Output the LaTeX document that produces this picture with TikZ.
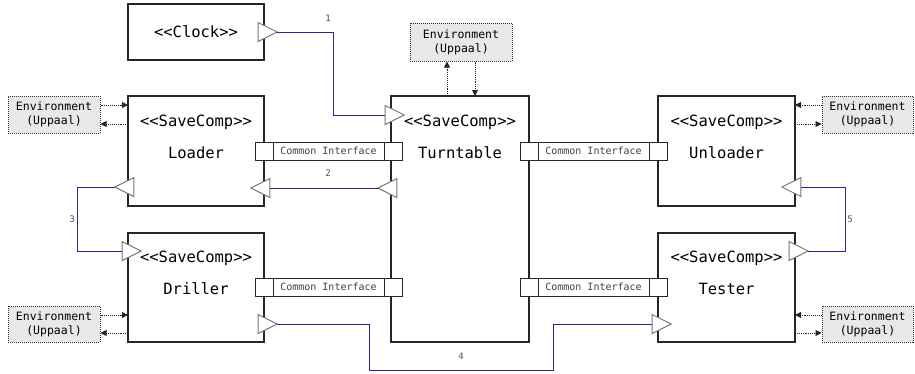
\documentclass[tikz,border=0pt]{standalone}
\usepackage{fontspec}
\newfontfamily\monof{DejaVu Sans Mono}
\usetikzlibrary{shapes.geometric,arrows.meta,calc}

\definecolor{wireblue}{RGB}{40,40,150}
\definecolor{envfill}{RGB}{232,232,232}
\definecolor{portgray}{RGB}{120,120,120}
\definecolor{labgray}{RGB}{80,80,80}

\tikzset{
  comp/.style={draw=black!85, line width=1.1pt, fill=white, inner sep=0pt, outer sep=0pt},
  stereo/.style={font=\monof\fontsize{15.5}{18}\selectfont, inner sep=0pt},
  port/.style={isosceles triangle, isosceles triangle stretches, draw=portgray, fill=white,
    line width=1pt, minimum width=19pt, minimum height=19pt, inner sep=0pt, outer sep=0pt},
  portR/.style={port, shape border rotate=0},
  portL/.style={port, shape border rotate=180},
  wire/.style={draw=wireblue, line width=0.95pt},
  wirelabel/.style={font=\monof\fontsize{9}{10}\selectfont, text=labgray, inner sep=0pt},
  env/.style={draw=black!80, densely dotted, line width=1pt, fill=envfill, minimum height=37pt,
    align=center, inner sep=0pt, font=\monof\fontsize{11.5}{14}\selectfont},
  envarrow/.style={densely dotted, line width=0.9pt, black!85,
    -{Triangle[length=6pt,width=6pt]}},
  citext/.style={draw=black!85, line width=1pt, fill=white, minimum width=111pt, minimum height=18pt,
    inner sep=0pt, outer sep=0pt, text=black!75, font=\monof\fontsize{10}{11}\selectfont},
  cisq/.style={draw=black!85, line width=1pt, fill=white, minimum width=18pt, minimum height=18pt,
    inner sep=0pt, outer sep=0pt},
}

\begin{document}
\begin{tikzpicture}[x=1pt, y=-1pt]
\useasboundingbox (0,0) rectangle (915,373);

% components
\node[comp, minimum width=136pt, minimum height=56pt] (clock) at (196,32) {};
\node[stereo] at (clock.center) {<<Clock>>};

\node[comp, minimum width=136pt, minimum height=110pt] (loader) at (196,151) {};
\node[stereo] at ([yshift=-26pt]loader.north) {<<SaveComp>>};
\node[stereo] at ([yshift=-57pt]loader.north) {Loader};

\node[comp, minimum width=136pt, minimum height=109pt] (driller) at (196,287.5) {};
\node[stereo] at ([yshift=-25pt]driller.north) {<<SaveComp>>};
\node[stereo] at ([yshift=-56pt]driller.north) {Driller};

\node[comp, minimum width=138pt, minimum height=246pt] (turntable) at (460,219) {};
\node[stereo] at ([yshift=-26pt]turntable.north) {<<SaveComp>>};
\node[stereo] at ([yshift=-57pt]turntable.north) {Turntable};

\node[comp, minimum width=137pt, minimum height=110pt] (unloader) at (726.5,151) {};
\node[stereo] at ([yshift=-26pt]unloader.north) {<<SaveComp>>};
\node[stereo] at ([yshift=-57pt]unloader.north) {Unloader};

\node[comp, minimum width=137pt, minimum height=109pt] (tester) at (726.5,287.5) {};
\node[stereo] at ([yshift=-25pt]tester.north) {<<SaveComp>>};
\node[stereo] at ([yshift=-56pt]tester.north) {Tester};

% common interfaces between components
\node[citext] (ci1) at (328.5,151) {Common Interface};
\node[cisq, anchor=east] (ci1l) at (ci1.west) {};
\node[cisq, anchor=west] (ci1r) at (ci1.east) {};

\node[citext] (ci2) at (593.5,151) {Common Interface};
\node[cisq, anchor=east] (ci2l) at (ci2.west) {};
\node[cisq, anchor=west] (ci2r) at (ci2.east) {};

\node[citext] (ci3) at (328.5,287) {Common Interface};
\node[cisq, anchor=east] (ci3l) at (ci3.west) {};
\node[cisq, anchor=west] (ci3r) at (ci3.east) {};

\node[citext] (ci4) at (593.5,287) {Common Interface};
\node[cisq, anchor=east] (ci4l) at (ci4.west) {};
\node[cisq, anchor=west] (ci4r) at (ci4.east) {};

% ports
\node[portR] (clkout) at (264,32) {};
\node[portR] (ttin) at (391,115) {};
\node[portL] (ttout) at (391,188) {};
\node[portL] (ldin) at (264,188) {};
\node[portL] (ldout) at (128,187) {};
\node[portR] (drin) at (128,251) {};
\node[portR] (drout) at (264,324) {};
\node[portR] (tsin) at (658,324) {};
\node[portR] (tsout) at (795,251) {};
\node[portL] (ulin) at (795,187) {};

% data connections
\coordinate (c4) at (553,370);
\draw[wire] (clkout.east) -- ++(56,0) |- (ttin.west);
\draw[wire] (ttout.west) -- (ldin.east);
\draw[wire] (ldout.west) -- ++(-37,0) |- (drin.west);
\draw[wire] (drout.east) -- ++(92,0) |- (c4) |- (tsin.west);
\draw[wire] (tsout.east) -- ++(37,0) |- (ulin.east);

\node[wirelabel] at (328,18) {1};
\node[wirelabel] at (328,173) {2};
\node[wirelabel] at (72,219) {3};
\node[wirelabel] at (461,356) {4};
\node[wirelabel] at (850,219) {5};

% environments
\node[env, minimum width=92pt] (envL1) at (54,114.5) {Environment\\(Uppaal)};
\node[env, minimum width=102pt, minimum height=38pt] (envT) at (461,42) {Environment\\(Uppaal)};
\node[env, minimum width=91pt] (envR1) at (867.5,114.5) {Environment\\(Uppaal)};
\node[env, minimum width=92pt, minimum height=36pt] (envL2) at (54,324) {Environment\\(Uppaal)};
\node[env, minimum width=91pt, minimum height=36pt] (envR2) at (867.5,324) {Environment\\(Uppaal)};

\draw[envarrow] ([yshift=9.5pt]envL1.east) -- ([yshift=9.5pt]envL1.east -| loader.west);
\draw[envarrow] ([yshift=-9.5pt]envL1.east -| loader.west) -- ([yshift=-9.5pt]envL1.east);

\draw[envarrow] ([xshift=-14pt]envT.south |- turntable.north) -- ([xshift=-14pt]envT.south);
\draw[envarrow] ([xshift=14pt]envT.south) -- ([xshift=14pt]envT.south |- turntable.north);

\draw[envarrow] ([yshift=9.5pt]envR1.west) -- ([yshift=9.5pt]envR1.west -| unloader.east);
\draw[envarrow] ([yshift=-9.5pt]envR1.west -| unloader.east) -- ([yshift=-9.5pt]envR1.west);

\draw[envarrow] ([yshift=9pt]envL2.east) -- ([yshift=9pt]envL2.east -| driller.west);
\draw[envarrow] ([yshift=-9pt]envL2.east -| driller.west) -- ([yshift=-9pt]envL2.east);

\draw[envarrow] ([yshift=9pt]envR2.west) -- ([yshift=9pt]envR2.west -| tester.east);
\draw[envarrow] ([yshift=-9pt]envR2.west -| tester.east) -- ([yshift=-9pt]envR2.west);
\end{tikzpicture}
\end{document}
